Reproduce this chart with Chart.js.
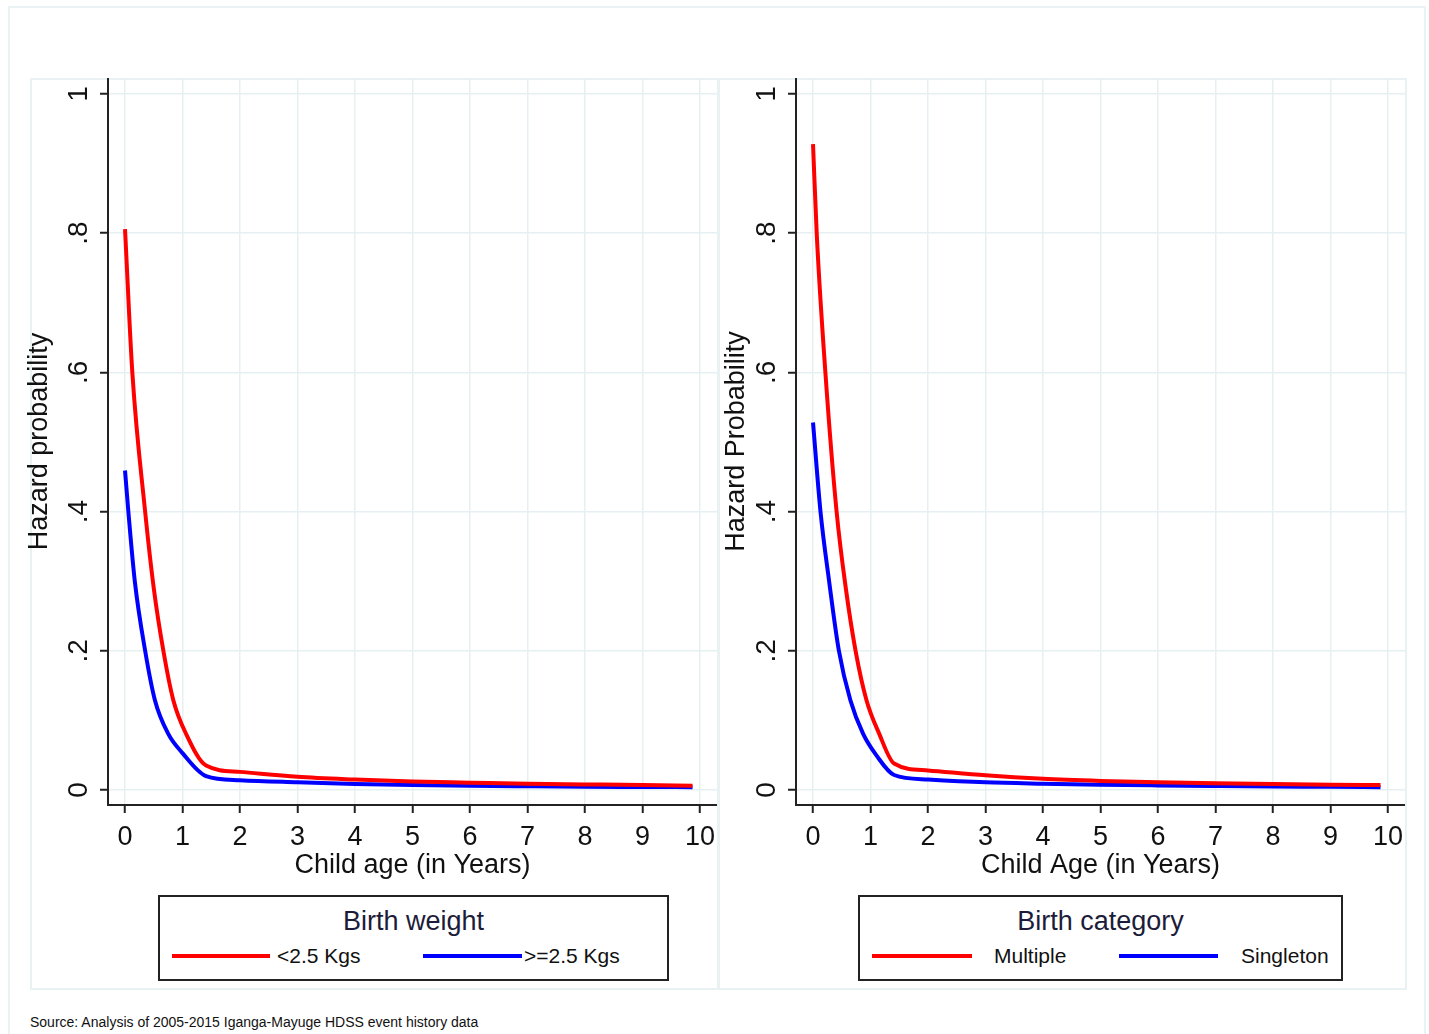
<!DOCTYPE html>
<html>
<head>
<meta charset="utf-8">
<script src="https://cdn.jsdelivr.net/npm/chart.js@4.4.1/dist/chart.umd.min.js"></script>
<style>
    body {
        margin: 0;
        width: 1429px;
        height: 1034px;
        position: relative;
        overflow: hidden;
        background: #fff;
        font-family: 'Liberation Sans Narrow', 'Arial Narrow', 'Liberation Sans', Arial, sans-serif;
    }
    .frame {
        position: absolute;
        left: 8px;
        top: 6px;
        width: 1414px;
        height: 1100px;
        border: 2px solid #ebf2f4;
    }
    .panel {
        position: absolute;
        top: 78px;
        height: 908px;
        border: 2px solid #e9f1f3;
    }
    .panel-left { left: 30px; width: 685px; }
    .panel-right { left: 718px; width: 685px; }
    canvas { position: absolute; }
    .legend {
        position: absolute;
        top: 895px;
        height: 82px;
        border: 2px solid #222;
        background: #fff;
    }
    .legend .inner-title {
        position: absolute;
        left: 0;
        top: 7px;
        width: 100%;
        text-align: center;
        font-size: 27px;
        line-height: 34px;
        color: #1c1c3a;
    }
    .legend .inner-line {
        position: absolute;
        top: 57px;
        height: 4px;
    }
    .legend .inner-label {
        position: absolute;
        top: 46px;
        font-size: 21px;
        line-height: 26px;
        color: #111;
    }
    .source {
        position: absolute;
        left: 30px;
        top: 1014px;
        font-family: 'Liberation Sans', Arial, sans-serif;
        font-size: 14px;
        color: #111;
    }
</style>
</head>
<body>
<div class="frame"></div>
<div class="panel panel-left"></div>
<div class="panel panel-right"></div>

<canvas id="chart1" width="697" height="812" style="left:20px; top:78px;"></canvas>
<canvas id="chart2" width="688" height="812" style="left:717px; top:78px;"></canvas>

<div class="legend" style="left:158px; width:507px;">
    <div class="inner-title">Birth weight</div>
    <div class="inner-line" style="left:12px; width:98px; background:#ff0000;"></div>
    <div class="inner-label" style="left:117px;">&lt;2.5 Kgs</div>
    <div class="inner-line" style="left:263px; width:99px; background:#0000ff;"></div>
    <div class="inner-label" style="left:364px;">&gt;=2.5 Kgs</div>
</div>
<div class="legend" style="left:858px; width:481px;">
    <div class="inner-title">Birth category</div>
    <div class="inner-line" style="left:12px; width:100px; background:#ff0000;"></div>
    <div class="inner-label" style="left:134px;">Multiple</div>
    <div class="inner-line" style="left:259px; width:99px; background:#0000ff;"></div>
    <div class="inner-label" style="left:381px;">Singleton</div>
</div>

<div class="source">Source: Analysis of 2005-2015 Iganga-Mayuge HDSS event history data</div>

<script>
// Data
const xTicks = [0, 1, 2, 3, 4, 5, 6, 7, 8, 9, 10];
const yTicks = [0, 0.2, 0.4, 0.6, 0.8, 1];
const yTickLabels = ["0", ".2", ".4", ".6", ".8", "1"];

// Birth weight < 2.5 Kgs
const lowWeightAge = [0, 0.127, 0.35, 0.5, 0.667, 0.84, 1.06, 1.41, 2, 3, 4, 5, 6, 7, 8, 9, 9.87];
const lowWeightHazard = [0.806, 0.6, 0.4, 0.29, 0.2, 0.129, 0.081, 0.035, 0.026, 0.019, 0.015, 0.012, 0.0105, 0.009, 0.008, 0.007, 0.006];
// Birth weight >= 2.5 Kgs
const normalWeightAge = [0, 0.058, 0.17, 0.35, 0.52, 0.75, 1.0, 1.41, 2, 3, 4, 5, 6, 7, 8, 9, 9.87];
const normalWeightHazard = [0.459, 0.4, 0.3, 0.2, 0.129, 0.081, 0.053, 0.02, 0.014, 0.011, 0.0085, 0.007, 0.006, 0.0053, 0.0047, 0.0043, 0.004];
// Multiple births
const multipleAge = [0, 0.064, 0.215, 0.41, 0.57, 0.74, 0.93, 1.15, 1.41, 2, 3, 4, 5, 6, 7, 8, 9, 9.87];
const multipleHazard = [0.928, 0.8, 0.6, 0.4, 0.29, 0.2, 0.129, 0.081, 0.038, 0.028, 0.021, 0.016, 0.013, 0.011, 0.0095, 0.0085, 0.0075, 0.007];
// Singleton births
const singletonAge = [0, 0.13, 0.28, 0.45, 0.65, 0.87, 1.1, 1.41, 2, 3, 4, 5, 6, 7, 8, 9, 9.87];
const singletonHazard = [0.528, 0.4, 0.3, 0.2, 0.129, 0.081, 0.05, 0.0215, 0.015, 0.011, 0.009, 0.0075, 0.0065, 0.0057, 0.005, 0.0045, 0.004];
// End Data

const fontFamily = "'Liberation Sans Narrow', 'Arial Narrow', 'Liberation Sans', Arial, sans-serif";
const gridColor = "#e6eff2";
const axisColor = "#222";

const toPoints = (ages, values) => ages.map((age, i) => ({ x: age, y: values[i] }));

const makeSeries = (ages, values, color) => ({
    data: toPoints(ages, values),
    borderColor: color,
    borderWidth: 4,
    pointRadius: 0,
    cubicInterpolationMode: 'monotone',
    fill: false
});

const drawHazardChart = (canvas, datasets, xTitle, yTitle, yWidth, yTitlePadding) => {
    new Chart(canvas, {
        type: 'line',
        data: { datasets: datasets },
        options: {
            responsive: false,
            animation: false,
            layout: { padding: 0 },
            plugins: {
                legend: { display: false },
                tooltip: { enabled: false }
            },
            scales: {
                x: {
                    type: 'linear',
                    min: -0.296,
                    max: 10.296,
                    afterBuildTicks: (scale) => {
                        scale.ticks = xTicks.map(v => ({ value: v }));
                    },
                    afterFit: (scale) => {
                        scale.height = 85;
                        scale.paddingLeft = 0;
                        scale.paddingRight = 0;
                    },
                    ticks: {
                        padding: 8,
                        color: "#111",
                        font: { family: fontFamily, size: 27 },
                        callback: (value) => String(value)
                    },
                    grid: {
                        color: gridColor,
                        lineWidth: 1.5,
                        tickLength: 8,
                        tickColor: axisColor,
                        tickWidth: 2
                    },
                    border: { color: axisColor, width: 2 },
                    title: {
                        display: true,
                        text: xTitle,
                        color: "#111",
                        font: { family: fontFamily, size: 27 },
                        padding: { top: 0, bottom: 8 }
                    }
                },
                y: {
                    min: -0.0216,
                    max: 1.023,
                    afterBuildTicks: (scale) => {
                        scale.ticks = yTicks.map(v => ({ value: v }));
                    },
                    afterFit: (scale) => {
                        scale.width = yWidth;
                        scale.paddingTop = 0;
                        scale.paddingBottom = 0;
                    },
                    ticks: {
                        minRotation: 90,
                        maxRotation: 90,
                        crossAlign: 'center',
                        padding: 9,
                        color: "#111",
                        font: { family: fontFamily, size: 28 },
                        callback: (value, index) => yTickLabels[index]
                    },
                    grid: {
                        color: gridColor,
                        lineWidth: 1.5,
                        tickLength: 8,
                        tickColor: axisColor,
                        tickWidth: 2
                    },
                    border: { color: axisColor, width: 2 },
                    title: {
                        display: true,
                        text: yTitle,
                        color: "#111",
                        font: { family: fontFamily, size: 27 },
                        padding: { top: yTitlePadding, bottom: 0 }
                    }
                }
            }
        }
    });
};

// Chart 1
const chart1 = document.querySelector("#chart1");
if (chart1) {
    drawHazardChart(chart1, [
        makeSeries(lowWeightAge, lowWeightHazard, "#ff0000"),
        makeSeries(normalWeightAge, normalWeightHazard, "#0000ff")
    ], "Child age (in Years)", "Hazard probability", 88, 3);
}
// End Chart 1

// Chart 2
const chart2 = document.querySelector("#chart2");
if (chart2) {
    drawHazardChart(chart2, [
        makeSeries(multipleAge, multipleHazard, "#ff0000"),
        makeSeries(singletonAge, singletonHazard, "#0000ff")
    ], "Child Age (in Years)", "Hazard Probability", 79, 3);
}
// End Chart 2
</script>
</body>
</html>
